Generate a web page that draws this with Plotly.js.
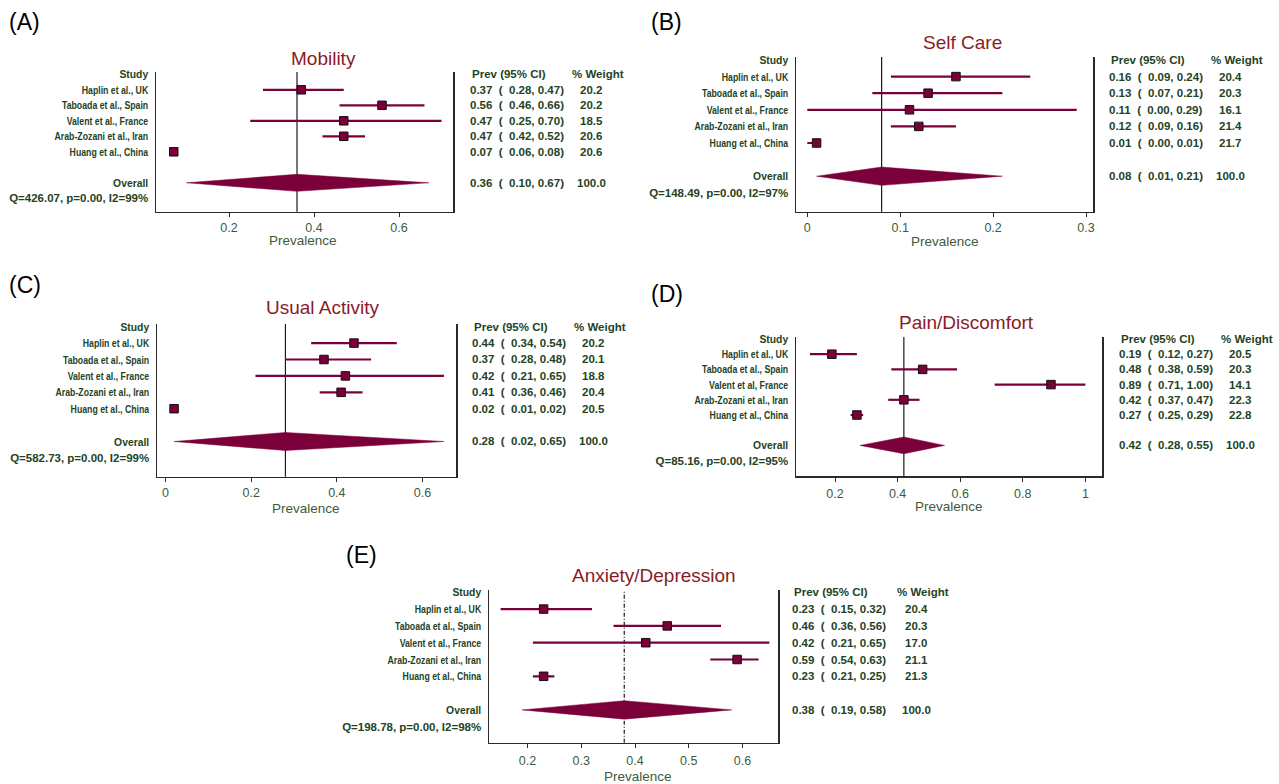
<!DOCTYPE html>
<html><head><meta charset="utf-8">
<script src="https://cdn.plot.ly/plotly-3.0.1.min.js"></script>
<style>html,body{margin:0;padding:0;background:#fff}</style>
</head><body><div id="chart" style="width:1279px;height:784px"></div>
<script>
// ---------------- DATA ----------------
const studies = ['Haplin et al., UK','Taboada et al., Spain','Valent et al., France','Arab-Zozani et al., Iran','Huang et al., China'];
const studiesPain = ['Haplin et al., UK','Taboada et al., Spain','Valent et al, France','Arab-Zozani et al., Iran','Huang et al., China'];

const mobilityPrev   = [0.37, 0.56, 0.47, 0.47, 0.07];
const mobilityLow    = [0.28, 0.46, 0.25, 0.42, 0.06];
const mobilityHigh   = [0.47, 0.66, 0.70, 0.52, 0.08];
const mobilityWeight = [20.2, 20.2, 18.5, 20.6, 20.6];
const mobilityOverall = [0.36, 0.10, 0.67];
const mobilityHet = 'Q=426.07, p=0.00, I2=99%';
const mobilityTicks = [0.2, 0.4, 0.6];

const selfCarePrev   = [0.16, 0.13, 0.11, 0.12, 0.01];
const selfCareLow    = [0.09, 0.07, 0.00, 0.09, 0.00];
const selfCareHigh   = [0.24, 0.21, 0.29, 0.16, 0.01];
const selfCareWeight = [20.4, 20.3, 16.1, 21.4, 21.7];
const selfCareOverall = [0.08, 0.01, 0.21];
const selfCareHet = 'Q=148.49, p=0.00, I2=97%';
const selfCareTicks = [0, 0.1, 0.2, 0.3];

const activityPrev   = [0.44, 0.37, 0.42, 0.41, 0.02];
const activityLow    = [0.34, 0.28, 0.21, 0.36, 0.01];
const activityHigh   = [0.54, 0.48, 0.65, 0.46, 0.02];
const activityWeight = [20.2, 20.1, 18.8, 20.4, 20.5];
const activityOverall = [0.28, 0.02, 0.65];
const activityHet = 'Q=582.73, p=0.00, I2=99%';
const activityTicks = [0, 0.2, 0.4, 0.6];

const painPrev   = [0.19, 0.48, 0.89, 0.42, 0.27];
const painLow    = [0.12, 0.38, 0.71, 0.37, 0.25];
const painHigh   = [0.27, 0.59, 1.00, 0.47, 0.29];
const painWeight = [20.5, 20.3, 14.1, 22.3, 22.8];
const painOverall = [0.42, 0.28, 0.55];
const painHet = 'Q=85.16, p=0.00, I2=95%';
const painTicks = [0.2, 0.4, 0.6, 0.8, 1];

const anxietyPrev   = [0.23, 0.46, 0.42, 0.59, 0.23];
const anxietyLow    = [0.15, 0.36, 0.21, 0.54, 0.21];
const anxietyHigh   = [0.32, 0.56, 0.65, 0.63, 0.25];
const anxietyWeight = [20.4, 20.3, 17.0, 21.1, 21.3];
const anxietyOverall = [0.38, 0.19, 0.58];
const anxietyHet = 'Q=198.78, p=0.00, I2=98%';
const anxietyTicks = [0.2, 0.3, 0.4, 0.5, 0.6];

const panelLetters = ['(A)','(B)','(C)','(D)','(E)'];
const panelTitles = ['Mobility','Self Care','Usual Activity','Pain/Discomfort','Anxiety/Depression'];
const xTitle = 'Prevalence';
const headerStudy = 'Study';
const headerPrev = 'Prev (95% CI)';
const headerWeight = '% Weight';
const overallLabel = 'Overall';

// ---------------- STYLE / GEOMETRY ----------------
const W = 1279, H = 784;
const MAROON = '#7b0039';
const GREEN = '#23431f';
const TICKGREEN = '#3d5b3b';
const TITLERED = '#8a1b26';
const FONT = 'Liberation Sans, Arial, Helvetica, sans-serif';

const panels = [
  {names: studies, prev: mobilityPrev, lo: mobilityLow, hi: mobilityHigh, wt: mobilityWeight, ov: mobilityOverall, het: mobilityHet, ticks: mobilityTicks, dash: 'solid',
   g: {x0:156, x1:453, v0:0.2, p0:229, v1:0.4, p1:314, row0:74.3, step:15.5, top:72, bottom:211.7, titleX:323, titleY:58, letterX:7, letterY:22, prevX:468, wX:591, labX:303, labY:240, stand:0}},
  {names: studies, prev: selfCarePrev, lo: selfCareLow, hi: selfCareHigh, wt: selfCareWeight, ov: selfCareOverall, het: selfCareHet, ticks: selfCareTicks, dash: 'solid',
   g: {x0:796, x1:1093, v0:0, p0:807.3, v1:0.3, p1:1086, row0:60, step:16.6, top:57, bottom:211.7, titleX:962, titleY:42, letterX:649, letterY:22, prevX:1107, wX:1230, labX:945, labY:241, stand:0}},
  {names: studies, prev: activityPrev, lo: activityLow, hi: activityHigh, wt: activityWeight, ov: activityOverall, het: activityHet, ticks: activityTicks, dash: 'solid',
   g: {x0:157, x1:456, v0:0, p0:165.5, v1:0.6, p1:422.5, row0:326.7, step:16.4, top:324, bottom:476.7, titleX:322, titleY:307, letterX:7, letterY:285, prevX:470, wX:593, labX:306, labY:508, stand:0}},
  {names: studiesPain, prev: painPrev, lo: painLow, hi: painHigh, wt: painWeight, ov: painOverall, het: painHet, ticks: painTicks, dash: 'solid',
   g: {x0:796, x1:1102, v0:0.2, p0:835, v1:1.0, p1:1085.4, row0:339, step:15.2, top:337, bottom:476, titleX:966, titleY:322, letterX:649, letterY:294, prevX:1117, wX:1240, labX:949, labY:506, stand:1}},
  {names: studies, prev: anxietyPrev, lo: anxietyLow, hi: anxietyHigh, wt: anxietyWeight, ov: anxietyOverall, het: anxietyHet, ticks: anxietyTicks, dash: '4px,2px,1px,2px',
   g: {x0:489, x1:778, v0:0.2, p0:527.5, v1:0.6, p1:742.5, row0:592.3, step:16.8, top:590, bottom:742.7, titleX:654, titleY:575, letterX:344, letterY:555, prevX:790, wX:916, labX:638, labY:776, stand:2}}
];

const OVERALL_ROW = 7, HET_ROW = 8, DIAMOND_H = 0.55;
const NAME_SQUEEZE = 0.76, HEADER_SQUEEZE = 0.9;
const px2x = p => p / W;
const px2y = p => 1 - p / H;
const f2 = v => v.toFixed(2);
const NB = '\u00a0';
const ciText = (p, l, h) => f2(p) + NB + NB + '(' + NB + NB + f2(l) + ',' + NB + f2(h) + ')';

const traces = [];
const layout = {
  width: W, height: H,
  margin: {l:0, r:0, t:0, b:0},
  paper_bgcolor: '#fff', plot_bgcolor: '#fff',
  showlegend: false,
  font: {family: FONT},
  annotations: [], shapes: []
};

panels.forEach((P, i) => {
  const n = i === 0 ? '' : String(i + 1);
  const xr = 'x' + n, yr = 'y' + n;
  const g = P.g;
  const ppu = (g.p1 - g.p0) / (g.v1 - g.v0);
  const xRange = [g.v0 + (g.x0 - g.p0) / ppu, g.v0 + (g.x1 - g.p0) / ppu];
  const yRange = [(g.bottom - g.row0) / g.step, (g.top - g.row0) / g.step];
  const rows = P.names.map((_, k) => k + 1);

  layout['xaxis' + n] = {
    domain: [px2x(g.x0), px2x(g.x1)], range: xRange, anchor: yr,
    showgrid: false, zeroline: false, showline: true, linecolor: '#2a2a2a', linewidth: 1.5,
    ticks: 'outside', ticklen: 4, tickcolor: '#2a2a2a', tickwidth: 1,
    ticklabelstandoff: g.stand,
    tickmode: 'array', tickvals: P.ticks,
    tickfont: {family: FONT, size: 12.5, color: TICKGREEN}, fixedrange: true
  };
  layout['yaxis' + n] = {
    domain: [px2y(g.bottom), px2y(g.top)], range: yRange, anchor: xr,
    showgrid: false, zeroline: false, showline: true, mirror: true, linecolor: '#2a2a2a', linewidth: 1.5,
    ticks: 'outside', ticklen: 4, tickcolor: 'rgba(0,0,0,0)',
    tickmode: 'array',
    tickvals: [0].concat(rows, [OVERALL_ROW, HET_ROW]),
    ticktext: [headerStudy].concat(P.names, [overallLabel, P.het]),
    tickfont: {family: FONT, size: 11.5, color: GREEN, weight: 'bold'}, fixedrange: true
  };

  // overall reference line
  layout.shapes.push({type: 'line', xref: xr, yref: yr + ' domain', x0: P.ov[0], x1: P.ov[0], y0: 0, y1: 1,
    line: {color: '#1a1a1a', width: 1.2, dash: P.dash}, layer: 'below'});

  // study estimates with CI
  traces.push({
    type: 'scatter', mode: 'markers', xaxis: xr, yaxis: yr,
    x: P.prev, y: rows,
    marker: {symbol: 'square', size: 8.5, color: MAROON, line: {color: '#111', width: 1}},
    error_x: {type: 'data', symmetric: false,
      array: P.hi.map((h, k) => h - P.prev[k]),
      arrayminus: P.lo.map((l, k) => P.prev[k] - l),
      width: 0, thickness: 2.2, color: MAROON},
    hoverinfo: 'skip'
  });
  // overall diamond
  traces.push({
    type: 'scatter', mode: 'lines', xaxis: xr, yaxis: yr,
    x: [P.ov[1], P.ov[0], P.ov[2], P.ov[0], P.ov[1]],
    y: [OVERALL_ROW, OVERALL_ROW - DIAMOND_H, OVERALL_ROW, OVERALL_ROW + DIAMOND_H, OVERALL_ROW],
    fill: 'toself', fillcolor: MAROON, line: {color: MAROON, width: 0.5}, hoverinfo: 'skip'
  });

  const statFont = {family: FONT, size: 11.5, color: GREEN, weight: 'bold'};
  const ann = layout.annotations;
  ann.push({xref: 'paper', yref: yr, x: px2x(g.prevX + 2), y: 0, xanchor: 'left', yanchor: 'middle', text: headerPrev, showarrow: false, font: statFont});
  ann.push({xref: 'paper', yref: yr, x: px2x(g.wX + 7), y: 0, xanchor: 'center', yanchor: 'middle', text: headerWeight, showarrow: false, font: statFont});
  P.prev.forEach((p, k) => {
    ann.push({xref: 'paper', yref: yr, x: px2x(g.prevX), y: k + 1, xanchor: 'left', yanchor: 'middle', text: ciText(p, P.lo[k], P.hi[k]), showarrow: false, font: statFont});
    ann.push({xref: 'paper', yref: yr, x: px2x(g.wX), y: k + 1, xanchor: 'center', yanchor: 'middle', text: P.wt[k].toFixed(1), showarrow: false, font: statFont});
  });
  ann.push({xref: 'paper', yref: yr, x: px2x(g.prevX), y: OVERALL_ROW, xanchor: 'left', yanchor: 'middle', text: ciText(P.ov[0], P.ov[1], P.ov[2]), showarrow: false, font: statFont});
  ann.push({xref: 'paper', yref: yr, x: px2x(g.wX), y: OVERALL_ROW, xanchor: 'center', yanchor: 'middle', text: (100).toFixed(1), showarrow: false, font: statFont});

  // title, panel letter, x-axis title
  ann.push({xref: 'paper', yref: 'paper', x: px2x(g.titleX), y: px2y(g.titleY), xanchor: 'center', yanchor: 'middle', text: panelTitles[i], showarrow: false, font: {family: FONT, size: 19, color: TITLERED}});
  ann.push({xref: 'paper', yref: 'paper', x: px2x(g.letterX), y: px2y(g.letterY), xanchor: 'left', yanchor: 'middle', text: panelLetters[i], showarrow: false, font: {family: FONT, size: 23, color: '#000'}});
  ann.push({xref: 'paper', yref: 'paper', x: px2x(g.labX), y: px2y(g.labY), xanchor: 'center', yanchor: 'middle', text: xTitle, showarrow: false, font: {family: FONT, size: 13.5, color: TICKGREEN}});
});

// The study column of the original uses a condensed face; squeeze those labels horizontally
// around their right edge (the text stays real text drawn by Plotly's axis).
function squeezeStudyLabels(gd) {
  gd.querySelectorAll('.yaxislayer-above text').forEach(t => {
    const s = t.textContent || '';
    if (s.indexOf('Q=') === 0) return;
    const f = (s === headerStudy || s === overallLabel) ? HEADER_SQUEEZE : NAME_SQUEEZE;
    const x = parseFloat(t.getAttribute('x')) || 0;
    const y = parseFloat(t.getAttribute('y')) || 0;
    const tr = t.getAttribute('transform') || '';
    t.setAttribute('transform', tr + ' translate(' + x + ',' + y + ') scale(' + f + ',1) translate(' + (-x) + ',' + (-y) + ')');
  });
}

Plotly.newPlot('chart', traces, layout, {staticPlot: true, displayModeBar: false}).then(squeezeStudyLabels);
</script>
</body></html>
